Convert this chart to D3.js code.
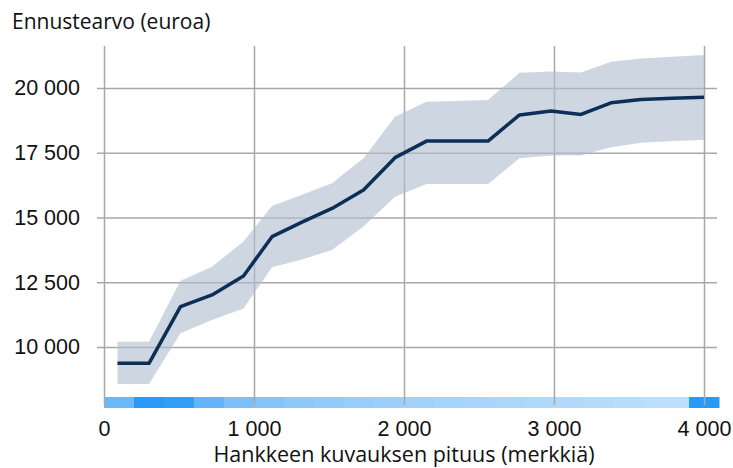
<!DOCTYPE html>
<html>
<head>
<meta charset="utf-8">
<script src="https://cdn.jsdelivr.net/npm/d3@7"></script>
<style>
  body { margin: 0; background: #fff; }
  svg { display: block; font-family: "Open Sans", "Noto Sans", sans-serif; }
  .grid line { stroke: #a8a8a8; stroke-width: 1.5px; }
  .grid path { display: none; }
  .grid text { fill: #111; font-size: 21.5px; }
</style>
</head>
<body>
<svg id="chart" width="733" height="468"></svg>
<script>
// description length (characters), bin centres of the model
var lengths = [90, 300, 510, 720, 930, 1120, 1320, 1520, 1730, 1940,
               2150, 2350, 2560, 2770, 2980, 3180, 3380, 3580, 3790, 4000];
// predicted value (euros)
var predicted = [9370, 9370, 11560, 12010, 12740, 14260, 14820, 15350, 16060, 17310,
                 17950, 17950, 17950, 18960, 19110, 18980, 19430, 19560, 19600, 19640];
var upper = [10200, 10200, 12560, 13100, 14070, 15440, 15880, 16320, 17290, 18890,
             19470, 19500, 19540, 20590, 20640, 20600, 21010, 21140, 21210, 21270];
var lower = [8570, 8570, 10530, 11040, 11490, 13080, 13380, 13750, 14650, 15800,
             16290, 16290, 16290, 17290, 17390, 17390, 17710, 17890, 17950, 17990];

// rug: distribution of description lengths (relative share per bin)
var rugEdges = [0, 200, 400, 600, 800, 1000, 1200, 1400, 1600, 1800, 2000, 2200, 2400,
                2600, 2800, 3000, 3200, 3400, 3600, 3800, 3900, 4100];
var rugShare = [0.6, 1.0, 0.95, 0.65, 0.5, 0.45, 0.4, 0.37, 0.33, 0.3, 0.27,
                0.25, 0.23, 0.2, 0.18, 0.16, 0.15, 0.13, 0.1, 0.1, 1.0];

var xTicks = [0, 1000, 2000, 3000, 4000];
var yTicks = [10000, 12500, 15000, 17500, 20000];

var fmt = d3.formatLocale({decimal: ",", thousands: " ", grouping: [3], currency: ["", " €"]}).format(",d");

var svg = d3.select("#chart");

var x = d3.scaleLinear().domain([0, 4000]).range([104, 704]);
var y = d3.scaleLinear().domain([10000, 20000]).range([347, 88]);

var gridTop = 46, gridBottom = 405;

// rug band
var rugColor = d3.scaleLinear().domain([0, 1]).range(["#cde6fc", "#2a9af8"]);
svg.append("g").selectAll("rect")
  .data(rugShare)
  .enter().append("rect")
  .attr("x", function(d, i) { return x(rugEdges[i]); })
  .attr("width", function(d, i) { return x(rugEdges[i + 1]) - x(rugEdges[i]) + 0.5; })
  .attr("y", 397)
  .attr("height", 11)
  .attr("fill", function(d) { return rugColor(d); });

// vertical grid + x labels
svg.append("g")
  .attr("class", "grid")
  .attr("transform", "translate(0," + gridBottom + ")")
  .call(d3.axisBottom(x).tickValues(xTicks).tickFormat(fmt)
    .tickSize(-(gridBottom - gridTop)).tickPadding(16))
  .call(function(g) { g.selectAll("text").attr("dy", "0.71em"); });

// horizontal grid + y labels
svg.append("g")
  .attr("class", "grid")
  .attr("transform", "translate(97,0)")
  .call(d3.axisLeft(y).tickValues(yTicks).tickFormat(fmt)
    .tickSize(-(717 - 97)).tickPadding(17))
  .call(function(g) { g.selectAll("text").attr("x", -17); });

// confidence band
var area = d3.area()
  .x(function(d, i) { return x(lengths[i]); })
  .y0(function(d, i) { return y(lower[i]); })
  .y1(function(d, i) { return y(upper[i]); });
svg.append("path")
  .datum(lengths)
  .attr("d", area)
  .attr("fill", "#aebdcf")
  .attr("fill-opacity", 0.62);

// prediction line
var line = d3.line()
  .x(function(d, i) { return x(lengths[i]); })
  .y(function(d) { return y(d); });
svg.append("path")
  .datum(predicted)
  .attr("d", line)
  .attr("fill", "none")
  .attr("stroke", "#0c2f58")
  .attr("stroke-width", 3.5)
  .attr("stroke-linejoin", "round");

// titles
svg.append("text")
  .attr("x", 12).attr("y", 29)
  .attr("font-size", 21).attr("fill", "#111")
  .text("Ennustearvo (euroa)");

svg.append("text")
  .attr("x", 404).attr("y", 462)
  .attr("text-anchor", "middle")
  .attr("font-size", 21.5).attr("fill", "#111")
  .text("Hankkeen kuvauksen pituus (merkkiä)");
</script>
</body>
</html>
